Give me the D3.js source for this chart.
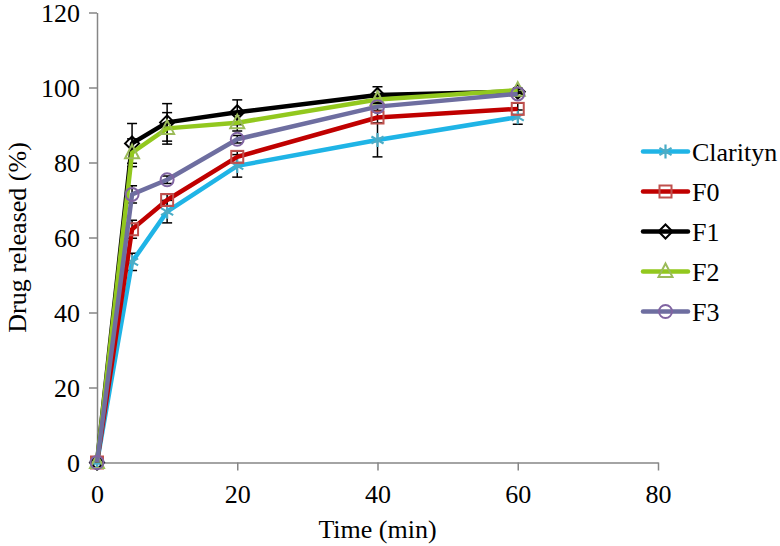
<!DOCTYPE html>
<html><head><meta charset="utf-8">
<script src="https://cdn.jsdelivr.net/npm/d3@7"></script>
<style>body{margin:0;background:#fff}svg{display:block}</style>
</head><body><svg id="c" width="780" height="546"></svg>
<script>
const times = [0, 5, 10, 20, 40, 60];
const seriesNames = ["Clarityn", "F0", "F1", "F2", "F3"];
const clarityn = [0, 53.5, 66.9, 79.1, 86.0, 92.1];
const f0 = [0, 62.2, 70.0, 81.5, 92.0, 94.3];
const f1 = [0, 85.1, 90.7, 93.4, 98.0, 98.9];
const f2 = [0, 82.6, 89.1, 90.6, 96.8, 99.3];
const f3 = [0, 71.5, 75.4, 86.2, 94.9, 98.3];
const errClarityn = [0, 2.3, 3.0, 3.0, 4.5, 1.9];
const errF0 = [0, 2.4, 1.5, 1.5, 1.5, 1.5];
const errF1 = [0, 5.3, 5.0, 3.3, 2.2, 0.5];
const errF2 = [0, 3.7, 4.2, 2.2, 1.5, 0.5];
const errF3 = [0, 2.3, 1.0, 1.0, 1.0, 0.5];
const xTicks = [0, 20, 40, 60, 80];
const yTicks = [0, 20, 40, 60, 80, 100, 120];

const lineColors = ["#1FB4E6", "#C00000", "#000000", "#92C81E", "#6E6EA0"];
const markerColors = ["#4BACC6", "#C0504D", "#000000", "#9BBB59", "#8064A2"];
const markerTypes = ["asterisk", "square", "diamond", "triangle", "circle"];
const values = [clarityn, f0, f1, f2, f3];
const errs = [errClarityn, errF0, errF1, errF2, errF3];

const FONT = '"Liberation Serif"';
const FS = "26px";
const svg = d3.select("#c");
const x = d3.scaleLinear().domain([0, 80]).range([97, 658]);
const y = d3.scaleLinear().domain([0, 120]).range([462.5, 12.5]);
const axisColor = "#868686";

// axes
const gx = svg.append("g").attr("transform", `translate(0,${y(0)})`)
  .call(d3.axisBottom(x).tickValues(xTicks).tickSize(8).tickSizeOuter(0).tickPadding(14));
const gy = svg.append("g").attr("transform", `translate(${x(0)},0)`)
  .call(d3.axisLeft(y).tickValues(yTicks).tickSize(8).tickSizeOuter(0).tickPadding(9));
[gx, gy].forEach(g => {
  g.attr("font-family", FONT).attr("font-size", 26);
  g.select(".domain").attr("stroke", axisColor).attr("stroke-width", 1.5);
  g.selectAll(".tick line").attr("stroke", axisColor).attr("stroke-width", 1.5);
  g.selectAll(".tick text").style("font-family", FONT).style("font-size", FS).attr("fill", "#000");
});
gy.selectAll(".tick text").attr("dy", "0.33em");
gx.selectAll(".tick text").attr("dy", "0.71em");

svg.append("text").attr("x", (x(0) + x(80)) / 2).attr("y", 538).attr("text-anchor", "middle")
  .style("font-family", FONT).style("font-size", FS).text("Time (min)");
svg.append("text").attr("transform", `translate(26,${(y(0) + y(120)) / 2}) rotate(-90)`)
  .attr("text-anchor", "middle").style("font-family", FONT).style("font-size", FS).text("Drug released (%)");

// error bars
values.forEach((vals, si) => {
  const g = svg.append("g").attr("stroke", "#000").attr("stroke-width", 1.5);
  times.forEach((t, i) => {
    const e = errs[si][i];
    if (!e) return;
    const cx = x(t), y1 = y(vals[i] + e), y2 = y(vals[i] - e);
    g.append("line").attr("x1", cx).attr("x2", cx).attr("y1", y1).attr("y2", y2);
    g.append("line").attr("x1", cx - 5).attr("x2", cx + 5).attr("y1", y1).attr("y2", y1);
    g.append("line").attr("x1", cx - 5).attr("x2", cx + 5).attr("y1", y2).attr("y2", y2);
  });
});

const line = d3.line().x((d, i) => x(times[i])).y(d => y(d));

function drawMarker(g, type, cx, cy, color) {
  const sw = 2;
  if (type === "square") {
    g.append("rect").attr("x", cx - 6).attr("y", cy - 6).attr("width", 12).attr("height", 12)
      .attr("fill", "none").attr("stroke", color).attr("stroke-width", sw);
  } else if (type === "circle") {
    g.append("circle").attr("cx", cx).attr("cy", cy).attr("r", 6.5)
      .attr("fill", "none").attr("stroke", color).attr("stroke-width", sw);
  } else if (type === "diamond") {
    g.append("path").attr("d", `M${cx},${cy - 7}L${cx + 7},${cy}L${cx},${cy + 7}L${cx - 7},${cy}Z`)
      .attr("fill", "none").attr("stroke", color).attr("stroke-width", sw);
  } else if (type === "triangle") {
    g.append("path").attr("d", `M${cx},${cy - 8}L${cx + 7},${cy + 5.5}L${cx - 7},${cy + 5.5}Z`)
      .attr("fill", "none").attr("stroke", color).attr("stroke-width", sw);
  } else if (type === "asterisk") {
    const r = 7;
    const p = [0, 60, 120].map(a => {
      const rad = (a + 90) * Math.PI / 180;
      const dx = r * Math.cos(rad), dy = r * Math.sin(rad);
      return `M${cx - dx},${cy - dy}L${cx + dx},${cy + dy}`;
    }).join("");
    g.append("path").attr("d", p).attr("fill", "none").attr("stroke", color).attr("stroke-width", 2.2);
  }
}

values.forEach((vals, si) => {
  svg.append("path").datum(vals).attr("d", line).attr("fill", "none")
    .attr("stroke", lineColors[si]).attr("stroke-width", 4.5).attr("stroke-linejoin", "round");
  const g = svg.append("g");
  vals.forEach((v, i) => drawMarker(g, markerTypes[si], x(times[i]), y(v), markerColors[si]));
});

// legend
const legY = [151.5, 191.5, 231.5, 271.5, 311.5];
seriesNames.forEach((name, si) => {
  const g = svg.append("g");
  const ly = legY[si];
  g.append("line").attr("x1", 643).attr("x2", 688).attr("y1", ly).attr("y2", ly)
    .attr("stroke", lineColors[si]).attr("stroke-width", 4.5).attr("stroke-linecap", "round");
  drawMarker(g, markerTypes[si], 665.5, ly, markerColors[si]);
  g.append("text").attr("x", 692).attr("y", ly + 9).style("font-family", FONT).style("font-size", FS).text(name);
});
</script></body></html>
